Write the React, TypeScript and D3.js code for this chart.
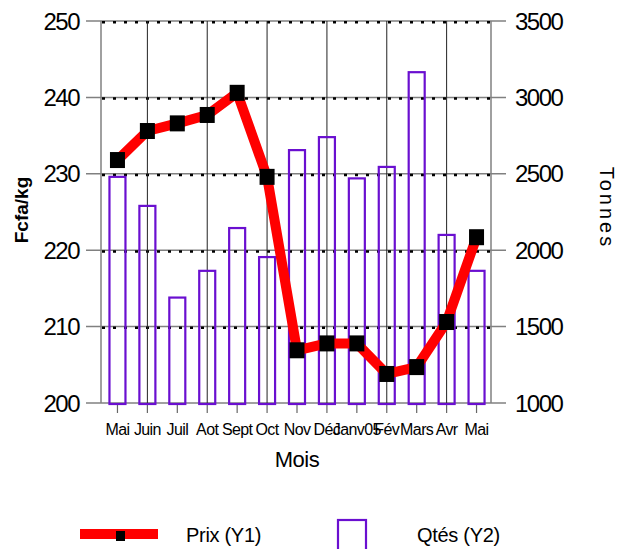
import React from "react";
import * as d3 from "d3";

const months = ["Mai", "Juin", "Juil", "Aot", "Sept", "Oct", "Nov", "Déc", "Janv05", "Fév", "Mars", "Avr", "Mai"];
const prix = [231.8, 235.6, 236.6, 237.7, 240.6, 229.6, 206.9, 207.8, 207.8, 203.8, 204.7, 210.6, 221.7];
const qtes = [2480, 2290, 1690, 1865, 2145, 1955, 2655, 2740, 2470, 2545, 3165, 2100, 1865];
const y1Ticks = [200, 210, 220, 230, 240, 250];
const y2Ticks = [1000, 1500, 2000, 2500, 3000, 3500];

const W = 621;
const H = 549;
const left = 101;
const right = 491;
const top = 21;
const bottom = 403;
const FONT = "'Liberation Sans', Arial, sans-serif";

export default function App() {
  const x = d3.scaleBand<number>().domain(months.map((_, i) => i)).range([102.5, 491.5]).padding(0);
  const cx = (i: number) => (x(i) as number) + x.bandwidth() / 2;
  const y1 = d3.scaleLinear().domain([200, 250]).range([bottom, top]);
  const y2 = d3.scaleLinear().domain([1000, 3500]).range([bottom, top]);
  const line = d3.line<number>().x((_, i) => cx(i)).y((d) => y1(d));
  const barW = 16;

  return (
    <svg width={W} height={H} style={{ position: "absolute", left: 0, top: 0, background: "#fff" }} fontFamily={FONT}>
      {/* horizontal grid */}
      {y1Ticks.map((t) => (
        <g key={"h" + t}>
          <line x1={86} x2={506} y1={y1(t)} y2={y1(t)} stroke="#808080" strokeWidth={1.5} />
          {t !== 200 && (
            <line x1={102} x2={492} y1={y1(t) + 1.2} y2={y1(t) + 1.2} stroke="#000" strokeWidth={2.5} strokeDasharray="3,8" />
          )}
        </g>
      ))}
      {/* vertical grid */}
      {months.map((_, i) =>
        i % 2 === 1 ? (
          <line key={"v" + i} x1={cx(i)} x2={cx(i)} y1={top} y2={bottom} stroke="#222" strokeWidth={1} />
        ) : null
      )}
      {/* x ticks */}
      {months.map((_, i) => (
        <line key={"t" + i} x1={cx(i)} x2={cx(i)} y1={bottom} y2={bottom + 10} stroke="#666" strokeWidth={1.2} />
      ))}
      {/* axes */}
      <line x1={left} x2={left} y1={top} y2={bottom} stroke="#808080" strokeWidth={1.5} />
      <line x1={right} x2={right} y1={top} y2={bottom} stroke="#808080" strokeWidth={1.5} />

      {/* bars */}
      {qtes.map((q, i) => (
        <rect
          key={"b" + i}
          x={cx(i) - barW / 2}
          y={y2(q)}
          width={barW}
          height={y2(1000) + 1 - y2(q)}
          fill="none"
          stroke="#6a0fd0"
          strokeWidth={2.2}
        />
      ))}

      {/* price line */}
      <path d={line(prix) || ""} fill="none" stroke="#ff0000" strokeWidth={10} strokeLinejoin="round" />
      {prix.map((p, i) => (
        <rect key={"m" + i} x={cx(i) - 7.5} y={y1(p) - 8} width={15} height={16} fill="#000" />
      ))}

      {/* left tick labels */}
      {y1Ticks.map((t) => (
        <text key={"l" + t} x={79} y={y1(t)} dy="0.36em" textAnchor="end" fontSize={24} letterSpacing={-1.5} fill="#000">
          {t}
        </text>
      ))}
      {/* right tick labels */}
      {y2Ticks.map((t) => (
        <text key={"r" + t} x={515} y={y2(t)} dy="0.36em" textAnchor="start" fontSize={24} letterSpacing={-1.5} fill="#000">
          {t}
        </text>
      ))}
      {/* x labels */}
      {months.map((m, i) => (
        <text key={"x" + i} x={cx(i)} y={435} textAnchor="middle" fontSize={16} letterSpacing={-0.6} fill="#000">
          {m}
        </text>
      ))}
      <text x={297} y={467} textAnchor="middle" fontSize={22} letterSpacing={-0.5} fill="#000">
        Mois
      </text>
      <text
        transform={`translate(28,210) rotate(-90)`}
        textAnchor="middle"
        fontSize={19}
        fontWeight="bold"
        letterSpacing={0}
        fill="#000"
      >
        Fcfa/kg
      </text>
      <text transform={`translate(600,208) rotate(90)`} textAnchor="middle" fontSize={20} letterSpacing={3} fill="#000">
        Tonnes
      </text>

      {/* legend */}
      <rect x={80} y={529} width={78} height={10} fill="#ff0000" />
      <rect x={116} y={531} width={9} height={10} fill="#000" />
      <text x={186} y={542} fontSize={20} letterSpacing={-0.3} fill="#000">
        Prix (Y1)
      </text>
      <rect x={338} y={520} width={28} height={40} fill="none" stroke="#6a0fd0" strokeWidth={2.2} />
      <text x={417} y={542} fontSize={20} letterSpacing={-0.3} fill="#000">
        Qtés (Y2)
      </text>
    </svg>
  );
}
